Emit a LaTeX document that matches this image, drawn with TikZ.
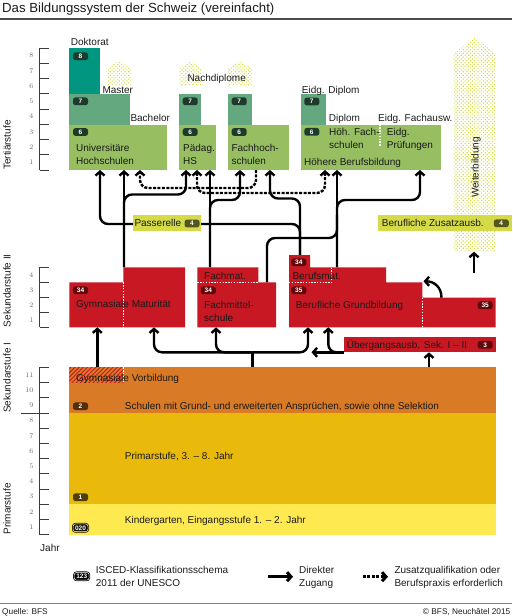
\documentclass[tikz,border=0pt]{standalone}
\usepackage{fontspec}
\setsansfont{Liberation Sans}
\renewcommand{\familydefault}{\sfdefault}
\usetikzlibrary{arrows.meta,patterns.meta}
\definecolor{gL}{RGB}{151,191,98}
\definecolor{gM}{RGB}{99,168,126}
\definecolor{gT}{RGB}{0,150,128}
\definecolor{rd}{RGB}{200,24,35}
\definecolor{orng}{RGB}{216,122,38}
\definecolor{prim}{RGB}{233,186,12}
\definecolor{kg}{RGB}{255,233,80}
\definecolor{yg}{RGB}{212,218,72}
\definecolor{dotc}{RGB}{214,220,60}
\definecolor{bG}{RGB}{30,58,42}
\definecolor{bR}{RGB}{94,10,13}
\definecolor{bY}{RGB}{85,86,30}
\definecolor{bO}{RGB}{80,47,16}
\definecolor{bP}{RGB}{80,63,8}
\definecolor{txt}{RGB}{26,26,26}
\definecolor{axc}{RGB}{60,60,60}
\tikzset{
 conn/.style={line width=2.4pt, draw=black, rounded corners=8pt, -{Straight Barb[length=4pt,width=9pt]}},
 dconn/.style={conn, dash pattern=on 3pt off 1.4pt},
 plainc/.style={line width=2.4pt, draw=black, rounded corners=8pt},
 lbl/.style={anchor=base west, inner sep=0pt, font=\fontsize{10}{13}\selectfont, text=txt},
 badge/.style={fill=#1, rounded corners=2.5pt, minimum width=15pt, minimum height=7.8pt, inner sep=0pt, text=white, font=\fontsize{6.5}{7}\selectfont\bfseries},
 wdot/.style={draw=white, line width=1.4pt, dash pattern=on 1.4pt off 1.4pt},
 tickl/.style={draw=axc, line width=0.9pt},
 tnum/.style={anchor=east, font=\rmfamily\fontsize{7}{8}\selectfont, text=black!60, inner sep=0pt},
 stage/.style={rotate=90, anchor=base west, inner sep=0pt, font=\fontsize{10}{12}\selectfont, text=txt},
 dotfill/.style={pattern={Dots[radius=0.8pt,distance=2.6pt,angle=45]}, pattern color=dotc},
}
\begin{document}
\begin{tikzpicture}[x=1pt,y=-1pt]
\useasboundingbox (0,0) rectangle (512,616);
% title and rules
\node[anchor=base west, inner sep=0pt, font=\fontsize{13.2}{15}\selectfont, text=txt] (title) at (2,12) {Das Bildungssystem der Schweiz (vereinfacht)};
\draw[line width=2pt, draw=black!70] (0,19.3) -- (512,19.3);
\draw[line width=1.2pt, draw=black!50] (0,603.5) -- (512,603.5);
\node[anchor=base west, inner sep=0pt, font=\fontsize{8.3}{10}\selectfont, text=txt] (src) at (2,614) {Quelle: BFS};
\node[anchor=base east, inner sep=0pt, font=\fontsize{8.3}{10}\selectfont, text=txt] (copy) at (510.5,614) {© BFS, Neuchâtel 2015};

% scales
\draw[tickl] (39.5,48) -- (39.5,170);
\foreach \k in {0,...,8} \draw[tickl] (39.5,{170-15.25*\k}) -- (49,{170-15.25*\k});
\foreach \k in {1,...,8} \node[tnum] (tt\k) at (33.5,{170-15.25*(\k-0.5)}) {\k};
\draw[tickl] (39.5,267.3) -- (39.5,327.3);
\foreach \k in {0,...,4} \draw[tickl] (39.5,{327.3-15*\k}) -- (49,{327.3-15*\k});
\foreach \k in {1,...,4} \node[tnum] (ts\k) at (33.5,{327.3-15*(\k-0.5)}) {\k};
\draw[tickl] (39.5,367.3) -- (39.5,534.7);
\foreach \k in {0,...,11} \draw[tickl] (39.5,{534.7-15.2*\k}) -- (49,{534.7-15.2*\k});
\draw[tickl] (20.7,413.1) -- (49,413.1);
\foreach \k in {1,...,11} \node[tnum] (tp\k) at (33.5,{534.7-15.2*(\k-0.5)}) {\k};
\node[stage] (st1) at (10.5,170) {Tertiärstufe};
\node[stage] (st2) at (10.5,327.3) {Sekundarstufe II};
\node[stage] (st3) at (10.5,413.1) {Sekundarstufe I};
\node[stage] (st4) at (10.5,534.7) {Primarstufe};
\node[lbl] (jahr) at (40,551.3) {Jahr};

% tertiary fills
\fill[gT] (69.3,48.3) rectangle (100,94.2);
\fill[gM] (69.3,94.2) rectangle (130,124.5);
\fill[gL] (69.3,124.5) rectangle (166.7,170);
\fill[gM] (179.3,94.2) rectangle (200.7,124.5);
\fill[gL] (179.3,124.5) rectangle (215.7,170);
\fill[gM] (228,94.2) rectangle (252.3,124.5);
\fill[gL] (228,124.5) rectangle (289.3,170);
\fill[gM] (300.7,94.2) rectangle (325.7,124.5);
\fill[gL] (300.7,124.5) rectangle (440.7,170);
\fill[dotfill] (106.7,85) -- (106.7,68.3) -- (118.7,61) -- (130.7,68.3) -- (130.7,85) -- cycle;
\fill[dotfill] (179.3,85) -- (179.3,68.3) -- (190.3,61) -- (201.3,68.3) -- (201.3,85) -- cycle;
\fill[dotfill] (228,85) -- (228,68.3) -- (240,61) -- (252,68.3) -- (252,85) -- cycle;
\fill[dotfill] (454,251.7) -- (454,53.3) -- (475,37.3) -- (495.7,53.3) -- (495.7,251.7) -- cycle;
\draw[wdot] (380,124.5) -- (380,146.7);

% connector coordinates
\coordinate (uA) at (100,170);
\coordinate (uB) at (124,170);
\coordinate (uC) at (140,170);
\coordinate (hA) at (186,170);
\coordinate (hB) at (197,170);
\coordinate (hC) at (210,170);
\coordinate (fA) at (240,170);
\coordinate (fB) at (256,170);
\coordinate (fC) at (270,170);
\coordinate (bA) at (325,170);
\coordinate (bB) at (337,170);
\coordinate (bC) at (420,170);
\coordinate (pW) at (133.3,224);
\coordinate (pE) at (200.7,224);
\coordinate (gmT) at (124,267.3);
\coordinate (fmT) at (210,267.3);
\coordinate (fmsT) at (267,282.3);
\coordinate (bmT) at (300,255);
\coordinate (bgT) at (337,267.3);
\coordinate (wbS) at (474,273);
\coordinate (wbB) at (474,251.7);

% upper connectors
\draw[dconn] (fB) -- (256,188) -- (140,188) -- (uC);
\draw[dconn, {Straight Barb[length=4pt,width=9pt]}-{Straight Barb[length=4pt,width=9pt]}] (hB) -- (197,193) -- (325,193) -- (bA);
\draw[conn] (gmT) -- (uB);
\draw[conn] (gmT) -- (124,194.5) -- (186,194.5) -- (hA);
\draw[plainc] (bmT) -- (300,224) -- (pE);
\draw[conn] (pW) -- (100,224) -- (uA);
\draw[conn] (bmT) -- (300,198.5) -- (270,198.5) -- (fC);
\draw[conn] (fmT) -- (hC);
\draw[conn] (fmT) -- (210,200) -- (240,200) -- (fA);
\draw[conn] (bgT) -- (bB);
\draw[conn] (bgT) -- (337,200) -- (420,200) -- (bC);
\draw[plainc] (fmsT) -- (267,238) -- (337,238) -- (337,215);
\draw[conn] (wbS) -- (wbB);

% Passerelle, Zusatzausbildung
\fill[yg] (133.3,215) rectangle (200.7,230.7);
\fill[yg] (378.3,215) rectangle (511.7,230.7);
\node[lbl] (pass) at (134.3,226.7) {Passerelle};
\node[badge=bY] (pass4) at (192,223.5) {4};
\node[lbl] (zus) at (381.7,226.7) {Berufliche Zusatzausb.};
\node[badge=bY] (zus4) at (501.3,223.3) {4};
\node[rotate=90, inner sep=0pt, font=\fontsize{10}{12}\selectfont, text=txt] (wb) at (476,167.5) {Weiterbildung};

% Sek II red shapes
\fill[rd] (69.3,327.3) -- (69.3,282.3) -- (123.3,282.3) -- (123.3,267.3) -- (185,267.3) -- (185,327.3) -- cycle;
\fill[rd] (197.3,327.3) -- (197.3,267.3) -- (258.3,267.3) -- (258.3,282.3) -- (276,282.3) -- (276,327.3) -- cycle;
\fill[rd] (289,327.3) -- (289,255) -- (310,255) -- (310,267.3) -- (386,267.3) -- (386,282.3) -- (422.3,282.3) -- (422.3,297.7) -- (495.7,297.7) -- (495.7,327.3) -- cycle;
\fill[rd] (343.7,337) rectangle (495.7,352.3);
\draw[wdot] (123.3,282.3) -- (123.3,327.3);
\draw[wdot] (197.3,282.3) -- (258.3,282.3);
\draw[wdot] (289,282.3) -- (331.7,282.3) -- (331.7,267.3);
\draw[wdot] (422.7,297.7) -- (422.7,327.3);

% Sek I, Primar
\fill[orng] (69.3,367.3) rectangle (495.7,413.1);
\fill[pattern={Lines[angle=45,distance=3pt,line width=1pt]}, pattern color=rd] (69.3,367.3) rectangle (123.3,382.3);
\draw[wdot] (123.3,367.3) -- (123.3,382.3);
\fill[prim] (69.3,413.1) rectangle (495.7,504.3);
\fill[kg] (69.3,504.3) rectangle (495.7,534.7);

% lower connectors
\coordinate (gvT) at (97.3,367.3);
\coordinate (gmB) at (97.3,327.3);
\coordinate (oT) at (252.3,367.3);
\coordinate (jn) at (252.3,352.3);
\coordinate (gmB2) at (154,327.3);
\coordinate (fmsB) at (216,327.3);
\coordinate (bgB1) at (308,327.3);
\coordinate (bgB2) at (328.3,327.3);
\coordinate (ueW) at (343.7,352.3);
\coordinate (ueL) at (311.5,352.3);
\coordinate (ueB) at (429,352.3);
\coordinate (oT2) at (429,367.3);
\coordinate (brT) at (441.5,297.7);
\coordinate (bgC) at (423.5,281.3);
\draw[conn] (gvT) -- (gmB);
\draw[plainc] (oT) -- (jn);
\draw[conn] (jn) -- (154,352.3) -- (gmB2);
\draw[conn] (jn) -- (216,352.3) -- (fmsB);
\draw[conn] (jn) -- (308,352.3) -- (bgB1);
\draw[conn] (ueW) -- (328.3,352.3) -- (bgB2);
\draw[conn] (ueW) -- (ueL);
\draw[conn] (oT2) -- (ueB);
\draw[line width=2.4pt, -{Straight Barb[length=4pt,width=9pt]}] (brT) .. controls (441.5,287) and (434,281.3) .. (bgC);

% tertiary labels
\node[lbl] (dok) at (70.7,45) {Doktorat};
\node[lbl] (mas) at (102.3,93.3) {Master};
\node[lbl] (bac) at (130.3,121.7) {Bachelor};
\node[lbl] (nach) at (187.3,81.7) {Nachdiplome};
\node[lbl] (eidd) at (301.7,93.3) {Eidg. Diplom};
\node[lbl] (dipl) at (328.7,121.7) {Diplom};
\node[lbl] (eidf) at (378,121.7) {Eidg. Fachausw.};
\node[lbl] (uni1) at (76,151.7) {Universitäre};
\node[lbl] (uni2) at (76,164.7) {Hochschulen};
\node[lbl] (ph1) at (183,151.7) {Pädag.};
\node[lbl] (ph2) at (183,164.7) {HS};
\node[lbl] (fh1) at (231.3,151.7) {Fachhoch-};
\node[lbl] (fh2) at (231.3,164.7) {schulen};
\node[lbl] (hf1) at (329,135.3) {Höh. Fach-};
\node[lbl] (hf2) at (329,148.3) {schulen};
\node[lbl] (ep1) at (386.7,135.3) {Eidg.};
\node[lbl] (ep2) at (386.7,148.3) {Prüfungen};
\node[lbl] (hbb) at (304,165) {Höhere Berufsbildung};
\node[badge=bG] (b8) at (80.5,56.3) {8};
\node[badge=bG] (bu7) at (80.5,101.3) {7};
\node[badge=bG] (bu6) at (80.5,132) {6};
\node[badge=bG] (bh7) at (190.2,101.3) {7};
\node[badge=bG] (bh6) at (190.2,132) {6};
\node[badge=bG] (bf7) at (239.2,101.3) {7};
\node[badge=bG] (bf6) at (239.2,132) {6};
\node[badge=bG] (bb7) at (311.8,101.5) {7};
\node[badge=bG] (bb6) at (311.8,131.8) {6};

% Sek II labels
\node[badge=bR] (g34) at (80.5,290.3) {34};
\node[lbl] (gym) at (76,307.5) {Gymnasiale Maturität};
\node[lbl] (fmat) at (204,279.3) {Fachmat.};
\node[badge=bR] (f34) at (208.3,290.3) {34};
\node[lbl] (fms1) at (204,308.3) {Fachmittel-};
\node[lbl] (fms2) at (204,321) {schule};
\node[badge=bR] (bm34) at (298.8,262.2) {34};
\node[lbl] (bmat) at (292.3,279.3) {Berufsmat.};
\node[badge=bR] (bg35) at (298.8,290.3) {35};
\node[lbl] (bg) at (295.7,308) {Berufliche Grundbildung};
\node[badge=bR] (br35) at (485.2,305.3) {35};
\node[lbl] (ue) at (346.7,348.3) {Übergangsausb. Sek. I – II};
\node[badge=bR] (ue3) at (485.2,344.8) {3};

% Sek I and Primar labels
\node[lbl] (gv) at (76,381) {Gymnasiale Vorbildung};
\node[badge=bO] (s2) at (80.5,406.3) {2};
\node[lbl] (sek1) at (124.7,409.3) {Schulen mit Grund- und erweiterten Ansprüchen, sowie ohne Selektion};
\node[lbl] (pri) at (124.7,459) {Primarstufe, 3. – 8. Jahr};
\node[badge=bP] (p1) at (80.5,497.2) {1};
\node[lbl] (kgt) at (124.7,523.3) {Kindergarten, Eingangsstufe 1. – 2. Jahr};
\node[badge=black!75!bP, draw=white, line width=0.5pt, preaction={draw=black!75!bP, line width=2pt}] (k020) at (80.5,527.8) {020};

% legend
\node[badge=black, draw=white, line width=0.5pt, preaction={draw=black, line width=2pt}] (l123) at (81.7,576.3) {123};
\node[lbl] (lg1) at (95.7,573.3) {ISCED-Klassifikationsschema};
\node[lbl] (lg2) at (95.7,586.3) {2011 der UNESCO};
\coordinate (l1a) at (268,576.7);
\coordinate (l1b) at (293,576.7);
\coordinate (l2a) at (363,576.7);
\coordinate (l2b) at (388,576.7);
\draw[conn, line width=3pt] (l1a) -- (l1b);
\draw[dconn, line width=3pt] (l2a) -- (l2b);
\node[lbl] (lg3) at (299,573.3) {Direkter};
\node[lbl] (lg4) at (299,586.3) {Zugang};
\node[lbl] (lg5) at (394.3,573.3) {Zusatzqualifikation oder};
\node[lbl] (lg6) at (394.3,586.3) {Berufspraxis erforderlich};
\end{tikzpicture}
\end{document}
